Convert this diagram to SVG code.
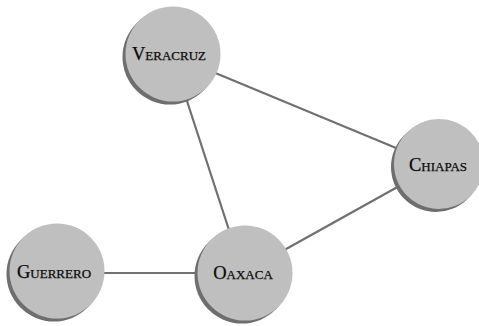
<svg xmlns="http://www.w3.org/2000/svg" width="479" height="326" viewBox="0 0 479 326">
<style>
.edge{stroke:#707074;stroke-width:2.2;fill:none}
.sh{fill:#6e6e70}
.nd{fill:#bfbfbf}
.lb{font-family:"Liberation Serif",serif;font-variant:small-caps;font-size:18.5px;fill:#0a0a0a;stroke:#0a0a0a;stroke-width:0.25;text-anchor:middle;dominant-baseline:central}
</style>
<rect width="479" height="326" fill="#fff"/>
<g id="edges">
<line class="edge" x1="172" y1="55" x2="437" y2="165"/>
<line class="edge" x1="172" y1="55" x2="243" y2="273"/>
<line class="edge" x1="437" y1="165" x2="243" y2="273"/>
<line class="edge" x1="55" y1="273" x2="243" y2="273"/>
</g>
<g id="veracruz">
<circle class="sh" cx="170" cy="57" r="47.5"/>
<circle class="nd" cx="173" cy="54" r="47.5"/>
<text class="lb" x="169" y="54">Veracruz</text>
</g>
<g id="chiapas">
<circle class="sh" cx="436" cy="167" r="45"/>
<circle class="nd" cx="439" cy="164" r="45"/>
<text class="lb" x="438" y="165">Chiapas</text>
</g>
<g id="guerrero">
<circle class="sh" cx="54" cy="274" r="47.5"/>
<circle class="nd" cx="57" cy="271" r="47.5"/>
<text class="lb" x="54" y="272">Guerrero</text>
</g>
<g id="oaxaca">
<circle class="sh" cx="242" cy="276" r="47.5"/>
<circle class="nd" cx="245" cy="273" r="47.5"/>
<text class="lb" x="243" y="273">Oaxaca</text>
</g>
</svg>
